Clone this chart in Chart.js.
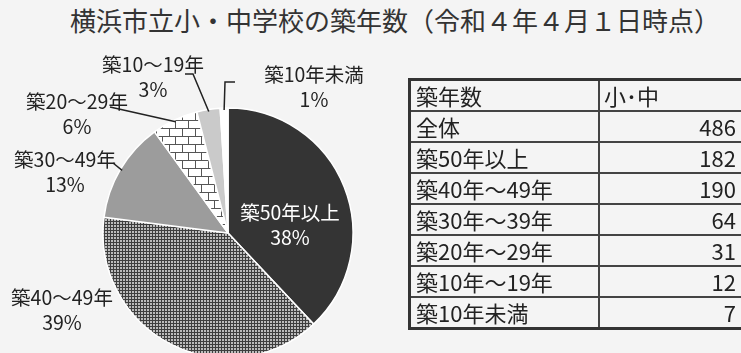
<!DOCTYPE html>
<html lang="ja">
<head>
<meta charset="utf-8">
<title>横浜市立小・中学校の築年数</title>
<script src="https://cdn.jsdelivr.net/npm/chart.js@4.4.1/dist/chart.umd.min.js"></script>
<style>
    html, body {
        margin: 0;
        padding: 0;
        background: #f4f4f4;
        font-family: "Noto Sans CJK JP", "Noto Sans", sans-serif;
    }
    #wrap {
        position: relative;
        width: 741px;
        height: 353px;
        overflow: hidden;
    }
    #pie {
        position: absolute;
        left: 0;
        top: 0;
    }
    #title {
        position: absolute;
        left: 0;
        top: 3px;
        width: 790px;
        text-align: center;
        font-size: 26px;
        line-height: 34px;
        color: #333;
        white-space: nowrap;
    }
    #age-table {
        position: absolute;
        left: 408px;
        top: 78px;
        width: 342px;
        border-collapse: collapse;
        border: 3px solid #333;
        font-size: 22px;
        color: #222;
    }
    #age-table td {
        border: 2px solid #444;
        height: 29px;
        padding: 0 4px;
        line-height: 27px;
        white-space: nowrap;
    }
    #age-table td.name {
        width: 178px;
        padding-left: 5px;
    }
    #age-table td.num {
        text-align: right;
        padding-right: 11px;
    }
</style>
</head>
<body>
<div id="wrap">
    <div id="title"></div>
    <canvas id="pie" width="741" height="353"></canvas>
    <table id="age-table"></table>
</div>
<script>
const chartTitle = '横浜市立小・中学校の築年数（令和４年４月１日時点）';

// pie slices, clockwise from 12 o'clock
const sliceLabels = ['築50年以上', '築40～49年', '築30～49年', '築20～29年', '築10～19年', '築10年未満'];
const slicePercents = [38, 39, 13, 6, 3, 1];

// table on the right
const tableHeader = ['築年数', '小･中'];
const tableRows = ['全体', '築50年以上', '築40年～49年', '築30年～39年', '築20年～29年', '築10年～19年', '築10年未満'];
const tableCounts = [486, 182, 190, 64, 31, 12, 7];

function makePattern(w, h, paint) {
    const tile = document.createElement('canvas');
    tile.width = w;
    tile.height = h;
    paint(tile.getContext('2d'));
    return document.createElement('canvas').getContext('2d').createPattern(tile, 'repeat');
}

// fine light dots on dark grey
const dotPattern = makePattern(3, 3, ctx => {
    ctx.fillStyle = '#3e3e3e';
    ctx.fillRect(0, 0, 3, 3);
    ctx.fillStyle = '#bcbcbc';
    ctx.fillRect(0, 0, 2, 2);
});

// brick wall
const brickPattern = makePattern(13, 16, ctx => {
    ctx.fillStyle = '#ffffff';
    ctx.fillRect(0, 0, 13, 16);
    ctx.fillStyle = '#555';
    ctx.fillRect(0, 0, 13, 1);
    ctx.fillRect(0, 8, 13, 1);
    ctx.fillRect(0, 0, 1, 8);
    ctx.fillRect(6, 8, 1, 8);
});

const sliceColors = ['#343434', dotPattern, '#9c9c9c', brickPattern, '#cacaca', '#ffffff'];

// label placement relative to the pie centre, leader = outer points of the line
const labelSpots = [
    { dx: 62, dy: -20, color: '#ffffff' },
    { dx: -166, dy: 65 },
    { dx: -163, dy: -73, leader: [[-115, -70]] },
    { dx: -151, dy: -131, leader: [[-118, -126]] },
    { dx: -75, dy: -168, leader: [[-43, -159], [-35, -159]] },
    { dx: 86, dy: -158, leader: [[7, -151], [-3, -151]] }
];

const pieLabels = {
    id: 'pieLabels',
    afterDatasetsDraw(chart) {
        const ctx = chart.ctx;
        const arcs = chart.getDatasetMeta(0).data;
        ctx.save();
        arcs.forEach((arc, i) => {
            const spot = labelSpots[i];
            const cx = arc.x, cy = arc.y;
            if (spot.leader) {
                const mid = (arc.startAngle + arc.endAngle) / 2;
                const r = arc.outerRadius - 2;
                ctx.beginPath();
                spot.leader.forEach((p, k) => {
                    if (k === 0) ctx.moveTo(cx + p[0], cy + p[1]);
                    else ctx.lineTo(cx + p[0], cy + p[1]);
                });
                ctx.lineTo(cx + r * Math.cos(mid), cy + r * Math.sin(mid));
                ctx.strokeStyle = '#222';
                ctx.lineWidth = 1.5;
                ctx.stroke();
            }
            ctx.fillStyle = spot.color || '#222';
            ctx.font = '19.5px "Noto Sans CJK JP", sans-serif';
            ctx.textAlign = 'center';
            ctx.textBaseline = 'middle';
            ctx.fillText(sliceLabels[i], cx + spot.dx, cy + spot.dy);
            ctx.fillText(slicePercents[i] + '%', cx + spot.dx, cy + spot.dy + 25);
        });
        ctx.restore();
    }
};

document.getElementById('title').textContent = chartTitle;

const table = document.getElementById('age-table');
table.innerHTML = `<tr><td class="name">${tableHeader[0]}</td><td>${tableHeader[1]}</td></tr>` +
    tableRows.map((name, i) => `<tr><td class="name">${name}</td><td class="num">${tableCounts[i]}</td></tr>`).join('');

new Chart(document.getElementById('pie'), {
    type: 'pie',
    data: {
        labels: sliceLabels,
        datasets: [{
            data: slicePercents,
            backgroundColor: sliceColors,
            borderColor: '#ffffff',
            borderWidth: 1.5
        }]
    },
    options: {
        responsive: false,
        animation: false,
        radius: 125,
        layout: {
            padding: { left: 0, right: 285, top: 113, bottom: 0 }
        },
        plugins: {
            legend: { display: false },
            tooltip: { enabled: false }
        }
    },
    plugins: [pieLabels]
});
</script>
</body>
</html>
